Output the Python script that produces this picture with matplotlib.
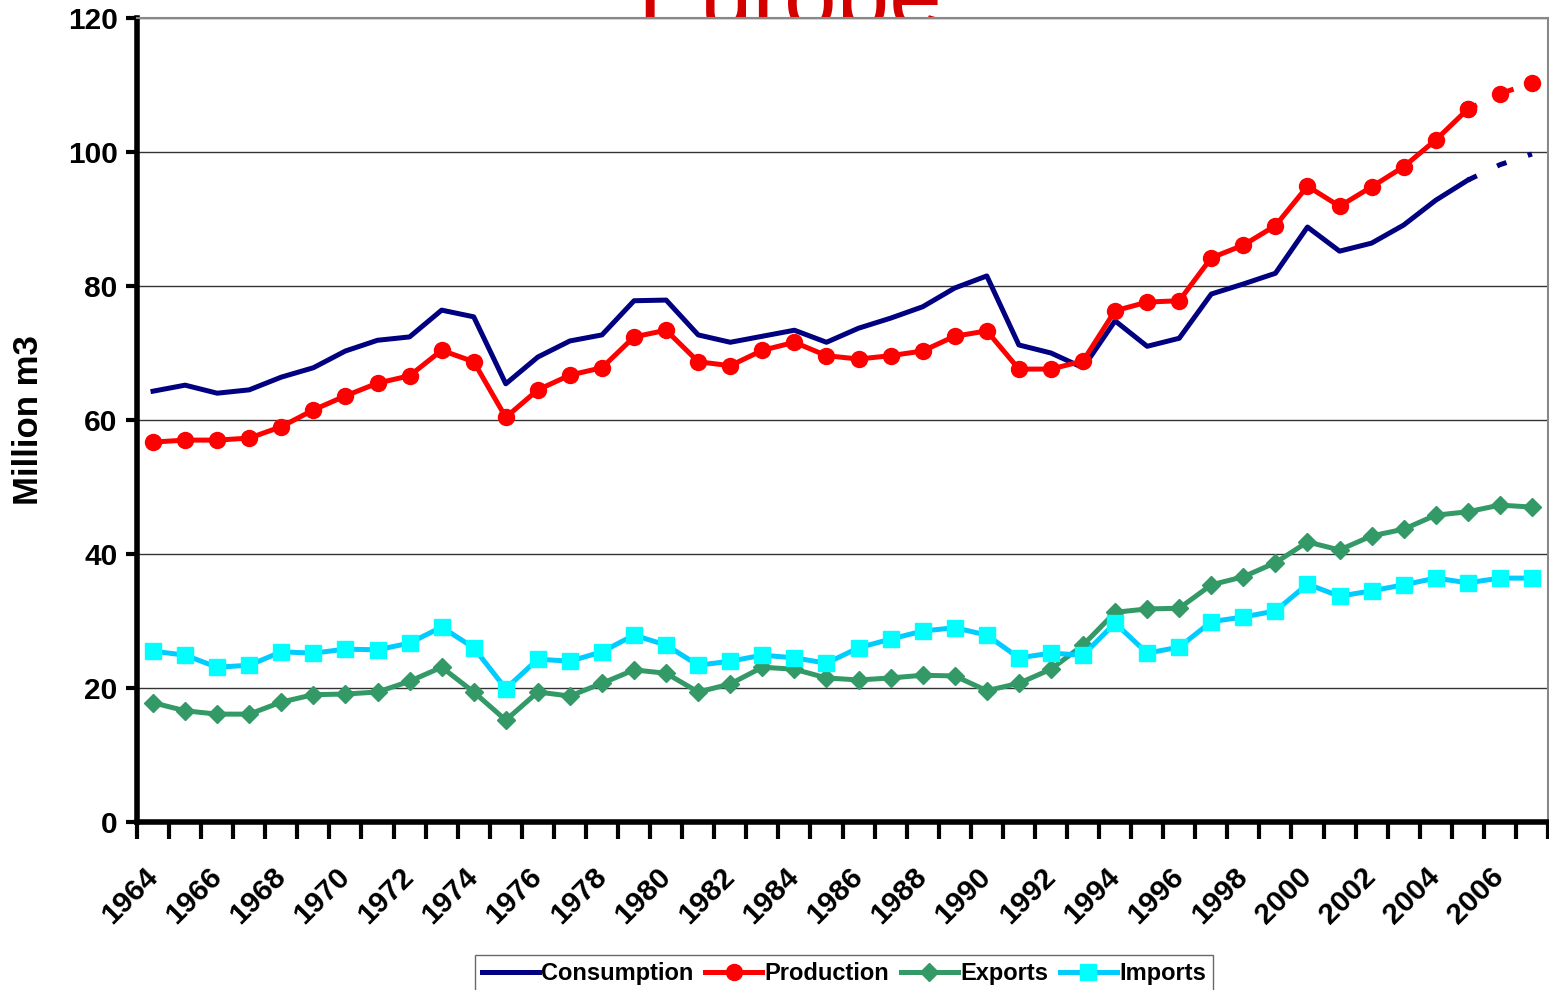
import matplotlib.pyplot as plt
import numpy as np

plt.rcParams['font.family'] = ['Liberation Sans', 'DejaVu Sans']

years = list(range(1964, 2008))

consumption = [64.3, 65.2, 64.0, 64.5, 66.4, 67.8, 70.3, 71.9, 72.4, 76.4,
               75.4, 65.4, 69.4, 71.8, 72.7, 77.8, 77.9, 72.7, 71.6, 72.5,
               73.4, 71.6, 73.7, 75.2, 76.9, 79.7, 81.5, 71.2, 70.0, 67.8,
               74.8, 71.0, 72.2, 78.8, 80.3, 81.9, 88.8, 85.2, 86.4, 89.1,
               92.8, 95.8, 98.1, 99.7]
production = [56.7, 57.0, 57.0, 57.3, 59.0, 61.5, 63.6, 65.5, 66.6, 70.4,
              68.7, 60.4, 64.5, 66.7, 67.8, 72.4, 73.4, 68.7, 68.1, 70.4,
              71.6, 69.6, 69.1, 69.6, 70.3, 72.5, 73.3, 67.6, 67.6, 68.8,
              76.3, 77.6, 77.8, 84.2, 86.1, 89.0, 94.9, 91.9, 94.8, 97.8,
              101.8, 106.4, 108.7, 110.3]
exports = [17.8, 16.6, 16.1, 16.1, 17.9, 19.0, 19.1, 19.4, 21.0, 23.1,
           19.4, 15.2, 19.4, 18.8, 20.7, 22.7, 22.2, 19.4, 20.6, 23.1,
           22.8, 21.5, 21.2, 21.5, 21.9, 21.8, 19.6, 20.7, 22.8, 26.4,
           31.3, 31.8, 31.9, 35.4, 36.6, 38.7, 41.8, 40.6, 42.7, 43.7,
           45.8, 46.3, 47.3, 47.0]
imports = [25.5, 24.9, 23.1, 23.4, 25.4, 25.2, 25.8, 25.7, 26.7, 29.1,
           26.0, 19.9, 24.3, 24.0, 25.4, 27.9, 26.4, 23.4, 24.0, 24.9,
           24.5, 23.7, 26.0, 27.3, 28.5, 29.0, 27.9, 24.5, 25.2, 24.9,
           29.7, 25.2, 26.1, 29.9, 30.6, 31.5, 35.5, 33.7, 34.5, 35.4,
           36.4, 35.7, 36.4, 36.4]

x = np.arange(len(years))
split = years.index(2005)  # last two years are projections (dashed)

fig = plt.figure(figsize=(15.49, 9.90), dpi=100)
ax = fig.add_axes([137/1549, 168/990, 1411/1549, 804/990])
ax.set_zorder(1)
ax.set_facecolor('white')

# title sits partly behind the plot area, like the original
fig.text(790/1549, 1 - 28/990, 'Europe', color='#D40000', fontsize=68,
         ha='center', va='baseline', zorder=-1)

lw = 3.6
dash = (0, (2, 4.5))

l1, = ax.plot(x[:split+1], consumption[:split+1], color='#000080', lw=lw,
              label='Consumption')
ax.plot(x[split:], consumption[split:], color='#000080', lw=lw, linestyle=dash)

l2, = ax.plot(x[:split+1], production[:split+1], color='#FF0000', lw=lw,
              marker='o', ms=11.5, label='Production')
ax.plot(x[split:], production[split:], color='#FF0000', lw=lw,
        linestyle=(0, (2, 6)), marker='o', ms=11.5)

l3, = ax.plot(x, exports, color='#339966', lw=lw, marker='D', ms=9,
              label='Exports')
l4, = ax.plot(x, imports, color='#00CCFF', lw=lw, marker='s', ms=11.5,
              mfc='#00FFFF', mec='#00FFFF', label='Imports')

ax.set_xlim(-0.5, len(years) - 0.5)
ax.set_ylim(0, 120)
ax.set_yticks(range(0, 121, 20))
ax.set_yticklabels([str(v) for v in range(0, 121, 20)], fontsize=21.5,
                   fontweight='bold')
ax.tick_params(axis='y', length=8, width=3, direction='out', pad=6)

ax.set_xticks(np.arange(-0.5, len(years)), minor=False)
ax.set_xticklabels([])
ax.tick_params(axis='x', which='major', length=12, width=3, direction='out')
ax.set_xticks(x[::2], minor=True)
ax.set_xticklabels([str(y) for y in years[::2]], minor=True, rotation=45,
                   ha='right', va='center', rotation_mode='anchor',
                   fontsize=21.5, fontweight='bold')
ax.tick_params(axis='x', which='minor', length=0, pad=36)

ax.yaxis.grid(True, color='#333333', lw=1)
ax.set_axisbelow(True)
for s in ['top', 'right']:
    ax.spines[s].set_color('#888888')
    ax.spines[s].set_linewidth(1.5)
ax.spines['left'].set_linewidth(4)
ax.spines['bottom'].set_linewidth(4)

ax.set_ylabel('Million m3', fontsize=25, fontweight='bold', labelpad=16)

fig.legend(handles=[l1, l2, l3, l4], loc='upper center',
           bbox_to_anchor=(844/1549, 35/990), ncol=4, frameon=True,
           fancybox=False, edgecolor='#444444', handlelength=2.4,
           handletextpad=0.1, columnspacing=0.5, borderpad=0.3,
           borderaxespad=0, prop={'size': 17, 'weight': 'bold'})

fig.savefig('out.png', dpi=100)
